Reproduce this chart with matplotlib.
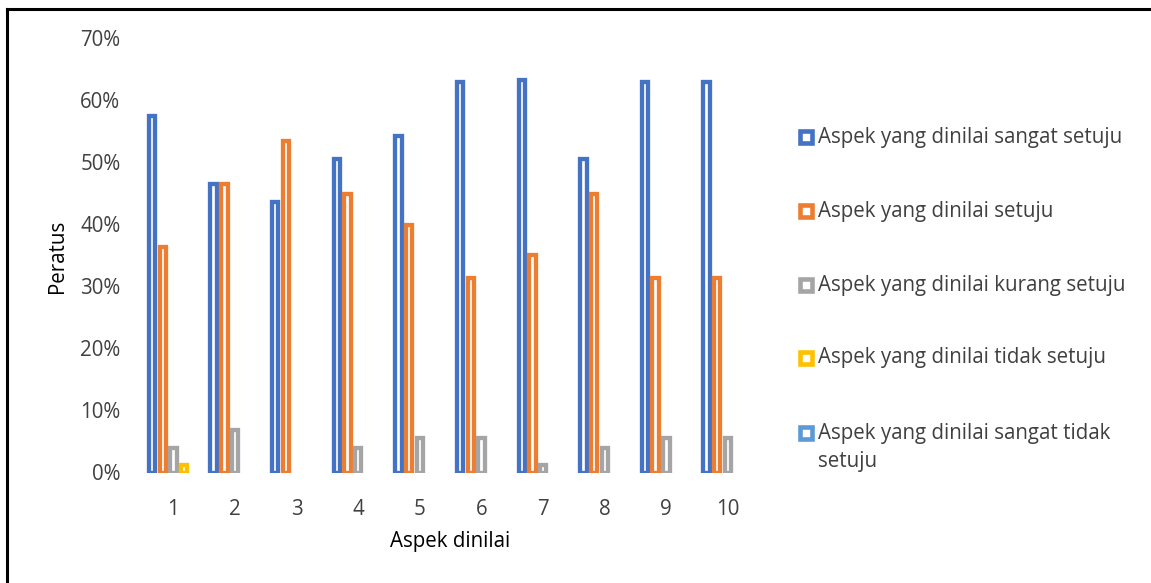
import matplotlib
matplotlib.use("Agg")
import matplotlib.pyplot as plt
from matplotlib.patches import Rectangle
from matplotlib.lines import Line2D
from matplotlib.ticker import FuncFormatter
import numpy as np

categories = ["1", "2", "3", "4", "5", "6", "7", "8", "9", "10"]
series_names = [
    "Aspek yang dinilai sangat setuju",
    "Aspek yang dinilai setuju",
    "Aspek yang dinilai kurang setuju",
    "Aspek yang dinilai tidak setuju",
    "Aspek yang dinilai sangat tidak\nsetuju",
]
sangat_setuju = [57.4, 46.4, 43.5, 50.5, 54.2, 62.9, 63.3, 50.5, 62.9, 62.9]
setuju = [36.4, 46.4, 53.4, 44.9, 39.8, 31.3, 35.0, 44.9, 31.3, 31.3]
kurang_setuju = [4.0, 6.8, 0.0, 4.0, 5.5, 5.5, 1.2, 4.0, 5.5, 5.5]
tidak_setuju = [1.2, 0, 0, 0, 0, 0, 0, 0, 0, 0]
sangat_tidak_setuju = [0, 0, 0, 0, 0, 0, 0, 0, 0, 0]
colors = ["#4472C4", "#ED7D31", "#A5A5A5", "#FFC000", "#5B9BD5"]
y_ticks = [0, 10, 20, 30, 40, 50, 60, 70]

all_series = [sangat_setuju, setuju, kurang_setuju, tidak_setuju, sangat_tidak_setuju]

FONT = "Open Sans"
FS = 14.8
W, H = 1151, 583
fig = plt.figure(figsize=(W / 100, H / 100), dpi=100)
fig.patch.set_facecolor("white")

def fx(px):
    return px / W

def fy(py):
    return 1 - py / H

ax_left, ax_right = 142.6, 758.8
ax_top, ax_bottom = 38.0, 472.5
ax = fig.add_axes([fx(ax_left), fy(ax_bottom), fx(ax_right - ax_left), (ax_bottom - ax_top) / H])

x = np.arange(len(categories))
step = 0.1737
width = 0.103
lw = 3.1
for i, (vals, c) in enumerate(zip(all_series, colors)):
    offs = (i - 2) * step
    vals_arr = np.array(vals, dtype=float)
    mask = vals_arr > 0
    ax.bar(x[mask] + offs, vals_arr[mask], width=width, facecolor="white",
           edgecolor=c, linewidth=lw, joinstyle="miter", zorder=3)

ax.set_xlim(-0.5, len(categories) - 0.5)
ax.set_ylim(0, 70)
ax.set_yticks(y_ticks)
ax.yaxis.set_major_formatter(FuncFormatter(lambda v, p: f"{int(round(v))}%"))
ax.set_xticks(x)
ax.set_xticklabels(categories)
for s in ax.spines.values():
    s.set_visible(False)
ax.tick_params(axis="both", length=0, labelsize=FS, labelcolor="#404040")
ax.tick_params(axis="x", pad=19)
ax.tick_params(axis="y", pad=16)
for lab in ax.get_xticklabels() + ax.get_yticklabels():
    lab.set_fontfamily(FONT)

fig.text(fx(450.5), fy(541), "Aspek dinilai", ha="center", va="center",
         fontsize=FS, color="#000000", family=FONT)
fig.text(fx(57.5), fy(256), "Peratus", ha="center", va="center", rotation=90,
         fontsize=FS, color="#000000", family=FONT)

# legend
leg_y = [137, 211, 285, 358, 433]
for name, c, yy in zip(series_names, colors, leg_y):
    sq = 12.6
    r = Rectangle((fx(806 - sq / 2), fy(yy + sq / 2)), sq / W, sq / H,
                  transform=fig.transFigure, facecolor="white", edgecolor=c,
                  linewidth=3.3, joinstyle="miter")
    fig.add_artist(r)
    for k, line in enumerate(name.split("\n")):
        fig.text(fx(818), fy(yy + 29 * k), line, ha="left", va="center",
                 fontsize=FS, color="#404040", family=FONT)

# outer frame (top and left edges)
fig.add_artist(Line2D([fx(7.5), 1.0], [fy(9), fy(9)], transform=fig.transFigure,
                      color="black", linewidth=2.2))
fig.add_artist(Line2D([fx(7.5), fx(7.5)], [fy(9), 0.0], transform=fig.transFigure,
                      color="black", linewidth=2.2))

fig.savefig("out.png", dpi=100, facecolor="white")
